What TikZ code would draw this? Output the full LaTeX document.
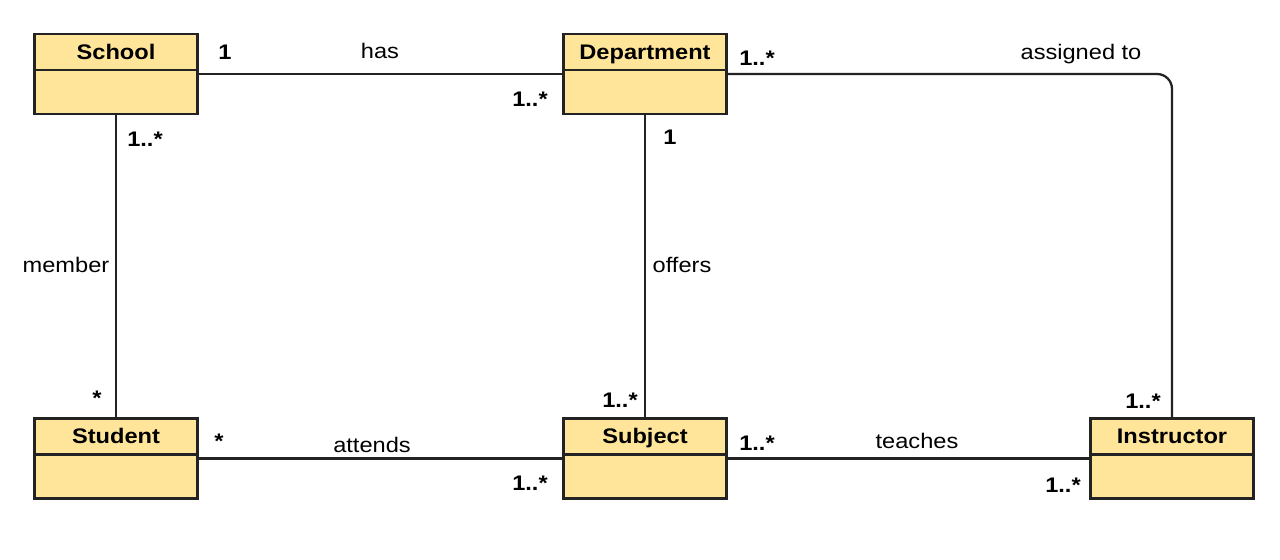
\documentclass[tikz,border=0pt]{standalone}
\usepackage{fontspec}
\setmainfont{Liberation Sans}[FakeStretch=1.12]
\usetikzlibrary{positioning}
\definecolor{classfill}{RGB}{255,229,153}
\definecolor{linegray}{RGB}{35,35,35}

\tikzset{
  classhead/.style={draw=linegray, line width=1.3pt, fill=classfill, minimum width=3.26cm,
    minimum height=0.72cm, inner sep=0pt, outer sep=0pt, text height=10.5pt, text depth=2.5pt,
    font=\fontsize{12}{14}\selectfont\bfseries},
  classbody/.style={draw=linegray, line width=1.3pt, fill=classfill, minimum width=3.26cm,
    minimum height=0.88cm, inner sep=0pt, outer sep=0pt},
  assoc/.style={draw=linegray, line width=1.3pt},
  mult/.style={anchor=base, inner sep=0pt, font=\fontsize{12}{14}\selectfont\bfseries},
  role/.style={anchor=base, inner sep=0pt, font=\fontsize{12}{14}\selectfont},
}

\begin{document}
\begin{tikzpicture}[x=0.02cm, y=-0.02cm]

    \useasboundingbox (0,0) rectangle (1280,560);

    % Classes
    \node[classhead] (school) at (116,52) {School};
    \node[classbody, below=0pt of school] (schoolb) {};
    \node[classhead] (dept) at (645,52) {Department};
    \node[classbody, below=0pt of dept] (deptb) {};
    \node[classhead] (student) at (116,436.5) {Student};
    \node[classbody, below=0pt of student] (studentb) {};
    \node[classhead] (subject) at (645,436.5) {Subject};
    \node[classbody, below=0pt of subject] (subjectb) {};
    \node[classhead] (instructor) at (1172,436.5) {Instructor};
    \node[classbody, below=0pt of instructor] (instructorb) {};

    % Associations
    \draw[assoc] ([yshift=-0.08cm]schoolb.north east) -- ([yshift=-0.08cm]deptb.north west);
    \draw[assoc, rounded corners=0.3cm] ([yshift=-0.08cm]deptb.north east) -| (instructor.north);
    \draw[assoc] (schoolb.south) -- (student.north);
    \draw[assoc] (deptb.south) -- (subject.north);
    \draw[assoc] ([yshift=-0.08cm]studentb.north east) -- ([yshift=-0.08cm]subjectb.north west);
    \draw[assoc] ([yshift=-0.08cm]subjectb.north east) -- ([yshift=-0.08cm]instructorb.north west);

    % Association names
    \node[role] (has) at (380,59) {has};
    \node[role] (assigned) at (1081,60) {assigned to};
    \node[role] (member) at (66,273) {member};
    \node[role] (offers) at (682,273) {offers};
    \node[role] (attends) at (372,452) {attends};
    \node[role] (teaches) at (917,448) {teaches};

    % Multiplicities
    \node[mult] (m1) at (225,60) {1};
    \node[mult] (m2) at (530,107) {1..*};
    \node[mult] (m3) at (757,66) {1..*};
    \node[mult] (m4) at (670,145) {1};
    \node[mult] (m5) at (145,147) {1..*};
    \node[mult] (m6) at (97,405) {*};
    \node[mult] (m7) at (219,448) {*};
    \node[mult] (m8) at (620,407) {1..*};
    \node[mult] (m9) at (530,490) {1..*};
    \node[mult] (m10) at (757,450) {1..*};
    \node[mult] (m11) at (1143,408) {1..*};
    \node[mult] (m12) at (1063,492) {1..*};

\end{tikzpicture}
\end{document}
